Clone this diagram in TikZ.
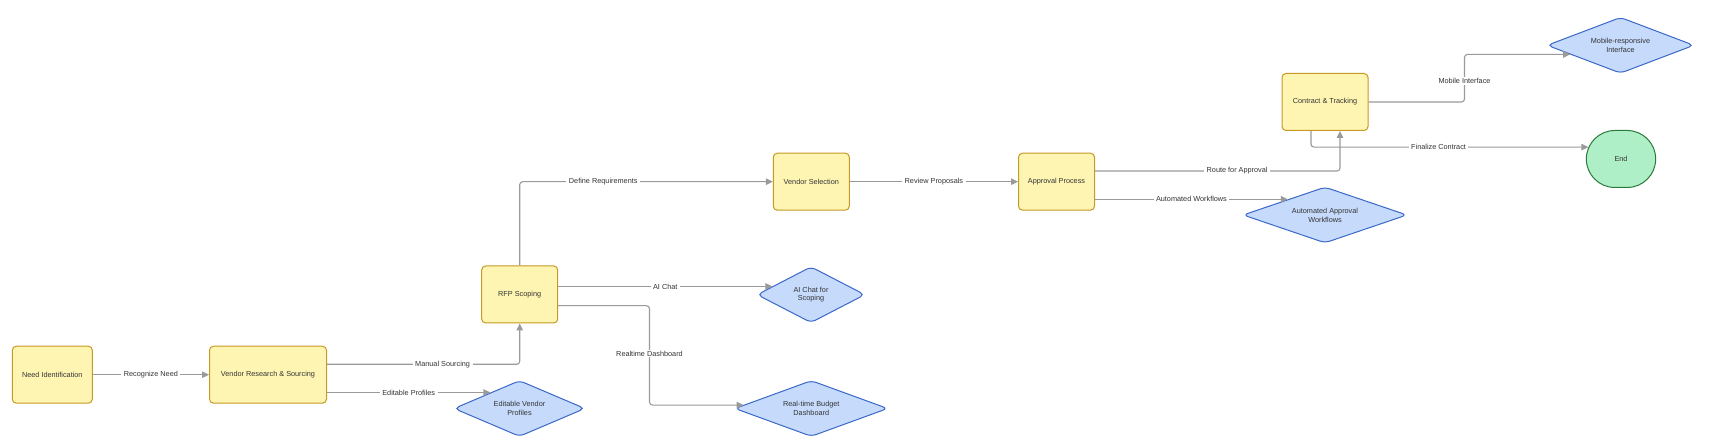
\documentclass[tikz,border=0pt]{standalone}
\usepackage{fontspec}
\setmainfont{Liberation Sans}
\usetikzlibrary{calc,shapes.geometric,shapes.misc,arrows.meta}
\definecolor{stagefill}{HTML}{FFF5B3}
\definecolor{stagedraw}{HTML}{C49A22}
\definecolor{featfill}{HTML}{C6DAFC}
\definecolor{featdraw}{HTML}{3A68C8}
\definecolor{endfill}{HTML}{AFEFC7}
\definecolor{enddraw}{HTML}{2A7A3A}
\definecolor{flowgrey}{HTML}{9A9A9A}
\definecolor{textgrey}{HTML}{333333}
\tikzset{every node/.style={font=\fontsize{7.3}{8.8}\selectfont,text=textgrey},
  stagebox/.style={draw=stagedraw,fill=stagefill,line width=1pt,rounded corners=4pt,
    minimum width=76pt,minimum height=57pt,align=center,inner sep=1pt},
  feature/.style={diamond,aspect=2.5,draw=featdraw,fill=featfill,line width=1pt,
    rounded corners=5pt,align=center,inner sep=0pt,minimum height=56pt},
  terminal/.style={rounded rectangle,draw=enddraw,fill=endfill,line width=1pt,
    minimum width=76pt,minimum height=57pt},
  flow/.style={draw=flowgrey,line width=1.1pt,rounded corners=3pt,
    -{Triangle[length=7pt,width=6.5pt]}},
  flowlabel/.style={fill=white,inner xsep=2.5pt,inner ysep=1pt,sharp corners}}

\begin{document}
\begin{tikzpicture}[x=1pt,y=1pt]
  \path[use as bounding box] (0,0) rectangle (1712,446);
  % process stages
  \node[stagebox,minimum width=80pt] (need) at (52.3,71.3) {Need Identification};
  \node[stagebox,minimum width=117pt] (vrs) at (268,71.3) {Vendor Research \& Sourcing};
  \node[stagebox] (rfp) at (519.7,151.5) {RFP Scoping};
  \node[stagebox] (vsel) at (811.3,264.3) {Vendor Selection};
  \node[stagebox] (appr) at (1056.5,264.3) {Approval Process};
  \node[stagebox,minimum width=86pt] (ctr) at (1325,344) {Contract \& Tracking};
  \node[terminal] (end) at (1621,287) {End};
  % features
  \node[feature,minimum width=131pt] (evp) at (519.5,37.5) {Editable Vendor\\Profiles};
  \node[feature,minimum width=108pt] (aic) at (811,151.3) {AI Chat for\\Scoping};
  \node[feature,minimum width=153pt] (rtb) at (811.3,37.5) {Real-time Budget\\Dashboard};
  \node[feature,minimum width=164pt] (aaw) at (1325,231) {Automated Approval\\Workflows};
  \node[feature,minimum width=147pt] (mri) at (1620.5,400.7) {Mobile-responsive\\Interface};
  \coordinate (evpin) at ($(evp.west)!0.56!(evp.north)$);
  \coordinate (aicin) at ($(aic.west)!0.29!(aic.north)$);
  \coordinate (rtbin) at ($(rtb.west)!0.12!(rtb.north)$);
  \coordinate (aawin) at ($(aaw.west)!0.55!(aaw.north)$);
  \coordinate (mriin) at ($(mri.west)!0.32!(mri.south)$);
  % connectors
  \draw[flow] (need) -- node[flowlabel]{Recognize Need} (vrs);
  \draw[flow] ($(vrs.east)+(0,10.4)$) -| node[flowlabel,pos=0.3]{Manual Sourcing} (rfp.south);
  \draw[flow] (vrs.east |- evpin) -- node[flowlabel]{Editable Profiles} (evpin);
  \draw[flow] (rfp.north) |- node[flowlabel,pos=0.665]{Define Requirements} (vsel.west);
  \draw[flow] (rfp.east |- aicin) -- node[flowlabel]{AI Chat} (aicin);
  \draw[flow] ($(rfp.east)+(0,-11.2)$) -- ++(91.3,0)
    |- node[flowlabel,pos=0.24]{Realtime Dashboard} (rtbin);
  \draw[flow] (vsel) -- node[flowlabel]{Review Proposals} (appr);
  \draw[flow] ($(appr.east)+(0,10.7)$) -| node[flowlabel,pos=0.29]{Route for Approval}
    ($(ctr.south)+(15,0)$);
  \draw[flow] (appr.east |- aawin) -- node[flowlabel]{Automated Workflows} (aawin);
  \draw[flow] (ctr.east) -- ++(96,0) |- node[flowlabel,pos=0.22]{Mobile Interface} (mriin);
  \draw[flow] ($(ctr.south)+(-14,0)$) |- node[flowlabel,pos=0.73]{Finalize Contract} (end.160);
\end{tikzpicture}
\end{document}
